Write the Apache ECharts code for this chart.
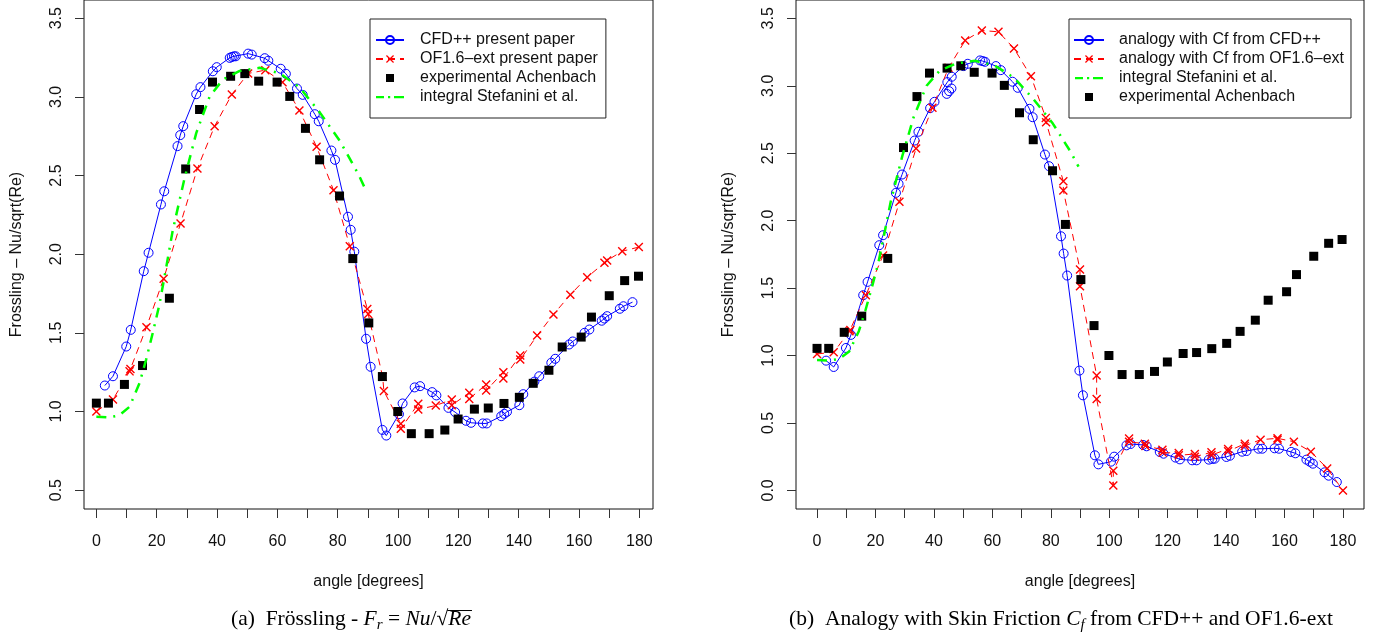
<!DOCTYPE html>
<html><head><meta charset="utf-8">
<script src="https://cdn.jsdelivr.net/npm/echarts@6/dist/echarts.min.js"></script>
<style>html,body{margin:0;padding:0;background:#fff}#c{width:1376px;height:640px}</style>
</head><body><div id="c"></div>
<script>
// ---------- tick labels ----------
const xTicks = [0,10,20,30,40,50,60,70,80,90,100,110,120,130,140,150,160,170,180];
const xLabels = [0,20,40,60,80,100,120,140,160,180];
const yTicksA = [0.5,1.0,1.5,2.0,2.5,3.0,3.5];
const yTicksB = [0.0,0.5,1.0,1.5,2.0,2.5,3.0,3.5];

// ---------- series names ----------
const namesA = ['CFD++ present paper','OF1.6\u2013ext present paper','experimental Achenbach','integral Stefanini et al.'];
const namesB = ['analogy with Cf from CFD++','analogy with Cf from OF1.6\u2013ext','integral Stefanini et al.','experimental Achenbach'];

// ---------- panel (a) : CFD++ ----------
const cfdA_angle = [2.8,5.5,9.9,11.4,15.7,17.3,21.4,22.5,26.9,27.8,28.8,33.1,34.5,38.6,39.9,44.2,44.9,45.6,46.2,50.3,51.5,55.8,57.0,61.1,62.8,66.5,68.4,72.4,73.7,77.9,79.1,83.4,84.3,85.5,89.4,90.9,94.8,96.1,100.3,101.5,105.5,107.3,111.3,112.7,116.7,118.9,122.5,124.2,128.1,129.4,134.2,135.2,136.1,140.2,141.5,145.2,146.8,150.8,152.1,156.7,157.9,161.8,163.4,167.5,168.4,169.3,173.5,174.7,177.7];
const cfdA_value = [1.165,1.224,1.413,1.519,1.892,2.009,2.316,2.40,2.687,2.757,2.814,3.017,3.062,3.163,3.189,3.248,3.254,3.258,3.258,3.275,3.269,3.246,3.23,3.179,3.147,3.053,3.013,2.89,2.845,2.659,2.60,2.238,2.155,2.016,1.462,1.284,0.883,0.847,0.983,1.051,1.153,1.161,1.123,1.102,1.023,0.996,0.941,0.928,0.924,0.924,0.97,0.985,0.998,1.04,1.11,1.19,1.224,1.31,1.335,1.426,1.445,1.50,1.521,1.577,1.591,1.606,1.653,1.669,1.695];

// ---------- panel (a) : OF1.6-ext ----------
const ofA_angle = [0,5.5,11.0,11.3,16.6,22.3,27.9,33.5,39.2,44.9,50.3,56.0,61.7,67.3,73.0,78.6,84.0,89.8,90.1,94.9,95.3,100.9,100.9,106.7,106.7,112.5,117.8,117.8,123.6,123.6,129.2,129.2,134.9,134.9,140.5,140.5,146.1,151.5,157.1,162.7,168.4,169.3,174.3,179.8];
const ofA_value = [1.0,1.076,1.255,1.27,1.536,1.844,2.195,2.545,2.814,3.015,3.149,3.17,3.093,2.914,2.683,2.407,2.051,1.652,1.62,1.22,1.13,0.922,0.89,1.049,1.013,1.038,1.076,1.04,1.119,1.08,1.172,1.133,1.25,1.21,1.356,1.33,1.483,1.617,1.742,1.854,1.945,1.96,2.019,2.045];

// ---------- experimental Achenbach (both panels) ----------
const expAngle = [0,4,9.3,15.3,24.2,29.6,34.2,38.5,44.5,49.2,53.8,59.9,64.1,69.3,74.0,80.6,85.0,90.3,94.8,99.9,104.4,110.3,115.5,119.9,125.3,129.9,135.1,140.2,144.8,150.0,154.4,160.7,164.1,170.0,175.1,179.7];
const expValue = [1.053,1.053,1.172,1.292,1.72,2.542,2.92,3.094,3.131,3.148,3.10,3.094,3.003,2.80,2.60,2.37,1.972,1.563,1.222,1.0,0.859,0.859,0.882,0.952,1.015,1.022,1.051,1.09,1.179,1.262,1.41,1.473,1.60,1.736,1.832,1.86];

// ---------- integral Stefanini et al. (both panels) ----------
const stefAngle = [0,4,7.6,11,14.3,16.5,18.7,20.9,23,25.3,29.2,33.1,37.5,41.9,47.5,54.1,60.8,67.4,74.1,80.7,86.8,89.5];
const stefValue = [0.966,0.962,0.975,1.03,1.18,1.33,1.50,1.68,1.90,2.15,2.48,2.77,3.0,3.11,3.165,3.185,3.15,3.06,2.90,2.72,2.51,2.40];

// ---------- panel (b) : analogy with Cf from CFD++ ----------
const cfdB_angle = [3.1,5.7,9.9,11.6,15.8,17.3,21.3,22.6,27.0,27.9,29.1,33.4,34.7,38.7,40.2,44.6,46.1,50.1,51.6,55.8,56.7,57.5,61.2,62.9,66.9,68.7,72.7,73.8,78.0,79.4,83.5,84.4,85.6,89.8,91.0,95.1,96.3,100.6,101.7,105.9,107.3,111.6,112.8,117.3,118.6,122.7,124.2,128.4,129.9,134.1,135.3,136.1,140.1,141.3,145.5,147.0,151.1,152.4,156.6,158.1,162.3,163.7,167.5,168.6,169.7,173.7,175.1,177.9];
const cfdB_value = [0.962,0.915,1.056,1.153,1.447,1.546,1.818,1.892,2.206,2.273,2.342,2.594,2.659,2.834,2.881,3.027,3.067,3.146,3.163,3.188,3.183,3.178,3.146,3.116,3.03,2.985,2.829,2.767,2.49,2.404,1.884,1.756,1.593,0.888,0.705,0.26,0.193,0.213,0.25,0.334,0.344,0.337,0.327,0.285,0.272,0.243,0.23,0.223,0.223,0.228,0.233,0.235,0.248,0.257,0.287,0.292,0.309,0.309,0.312,0.309,0.285,0.275,0.228,0.213,0.198,0.134,0.109,0.062];
// extra CFD++ markers off the drawn line (44-46 deg cluster)
const cfdB_extraAngle = [44.4,45.2,46.0];
const cfdB_extraValue = [2.94,2.96,2.98];

// ---------- panel (b) : analogy with Cf from OF1.6-ext ----------
const ofB_angle = [0,5.7,11.1,11.4,16.7,22.6,28.2,33.9,39.5,45.0,50.7,56.4,62.1,67.4,73.2,78.3,78.4,84.3,84.3,90.0,90.0,95.7,95.7,101.4,101.4,106.8,106.8,112.2,112.4,118.2,118.3,123.8,123.8,129.3,129.3,135.0,135.0,140.7,140.7,146.4,146.4,151.8,157.6,157.6,163.2,169.0,174.6,180.0];
const ofB_value = [1.012,1.024,1.18,1.19,1.447,1.741,2.14,2.535,2.837,3.133,3.336,3.41,3.40,3.277,3.071,2.762,2.73,2.292,2.223,1.637,1.513,0.851,0.678,0.037,0.146,0.384,0.36,0.346,0.33,0.302,0.28,0.277,0.26,0.27,0.25,0.282,0.262,0.307,0.29,0.346,0.33,0.376,0.386,0.375,0.361,0.287,0.163,0.0];

// ---------- build ----------
const zip = (a, b) => a.map((v, i) => [v, b[i]]);
const SANS = '"Liberation Sans", Arial, Helvetica, sans-serif';
const SERIF = '"Liberation Serif", "Times New Roman", serif';
const BLUE = '#0000ff', RED = '#ff0000', GREEN = '#00ff00';
const XSYM = 'path://M0,1.1L1.1,0L5,3.9L8.9,0L10,1.1L6.1,5L10,8.9L8.9,10L5,6.1L1.1,10L0,8.9L3.9,5Z';
// legend icons (tiny corner dots fix the bounding box so the glyph keeps its size)
const SQ_ICON = 'path://M0,0h0.01v0.01h-0.01zM9.99,9.99h0.01v0.01h-0.01zM1,1h8v8h-8z';
const DASHDOT_ICON = 'path://M0,0h0.01v0.01h-0.01zM27.99,9.99h0.01v0.01h-0.01zM0,4h8v2.2h-8zM12,4h2.2v2.2h-2.2zM18,4h10v2.2h-10z';

function xAxisCfg(gi, min, max) {
  return {
    type: 'value', gridIndex: gi, min: min, max: max,
    axisLine: { show: false, onZero: false }, splitLine: { show: false },
    axisTick: { show: true, customValues: xTicks, length: 9, lineStyle: { color: '#333', width: 1 } },
    axisLabel: { customValues: xLabels, margin: 25, fontSize: 16, color: '#111', fontFamily: SANS },
    name: 'angle [degrees]', nameLocation: 'middle', nameGap: 65,
    nameTextStyle: { fontSize: 16, color: '#111', fontFamily: SANS }
  };
}
function yAxisCfg(gi, min, max, ticks) {
  return {
    type: 'value', gridIndex: gi, min: min, max: max,
    axisLine: { show: false, onZero: false }, splitLine: { show: false },
    axisTick: { show: true, customValues: ticks, length: 9, lineStyle: { color: '#333', width: 1 } },
    axisLabel: { customValues: ticks, rotate: 90, margin: 19, fontSize: 16, color: '#111', fontFamily: SANS,
      formatter: v => Number(v).toFixed(1) },
    name: 'Frossling \u2013 Nu/sqrt(Re)', nameLocation: 'middle', nameGap: 59,
    nameTextStyle: { fontSize: 16, color: '#111', fontFamily: SANS }
  };
}
function legendCfg(left, names, pad, iw, tpad) {
  return {
    orient: 'vertical', left: left, top: 19, padding: pad, itemWidth: iw, itemHeight: 10, itemGap: 3,
    borderColor: '#222', borderWidth: 1, backgroundColor: '#fff', selectedMode: false,
    textStyle: { fontSize: 16, lineHeight: 16, color: '#111', fontFamily: SANS, padding: [0, 0, 0, tpad] },
    data: names.map(n => n.indexOf('experimental') === 0 ? { name: n, icon: SQ_ICON }
      : n.indexOf('integral') === 0 ? { name: n, icon: DASHDOT_ICON } : { name: n })
  };
}
const cfdStyle = { symbol: 'circle', symbolSize: 9, itemStyle: { color: 'rgba(255,255,255,0)', borderColor: BLUE, borderWidth: 1, opacity: 1 }, lineStyle: { color: BLUE, width: 1 } };
const ofStyle = { symbol: XSYM, symbolSize: 9, itemStyle: { color: RED, opacity: 1 }, lineStyle: { color: RED, width: 1, type: [7, 5] } };
const expStyle = { symbol: 'rect', symbolSize: 9, itemStyle: { color: '#000', opacity: 1 } };
const stefStyle = { symbol: 'none', lineStyle: { color: GREEN, width: 2.5, type: [10, 7, 2, 7] }, itemStyle: { color: GREEN } };

function series(type, name, gi, data, style, z) {
  return Object.assign({ type: type, name: name, xAxisIndex: gi, yAxisIndex: gi, data: data, z: z, animation: false, clip: false, showSymbol: true }, JSON.parse(JSON.stringify(style)));
}

// caption builder (measured so mixed italic / subscript text sits on one baseline)
const measCtx = document.createElement('canvas').getContext('2d');
function caption(cx, base, segs) {
  const els = [];
  const w = segs.map(s => { measCtx.font = (s.it ? 'italic ' : '') + s.fs + 'px ' + SERIF; return measCtx.measureText(s.t).width; });
  let x = cx - w.reduce((a, b) => a + b, 0) / 2;
  segs.forEach((s, i) => {
    const b = base + (s.dy || 0);
    els.push({ type: 'text', x: x, y: b - 0.33 * s.fs, silent: true,
      style: { text: s.t, fontFamily: SERIF, fontSize: s.fs, fontStyle: s.it ? 'italic' : 'normal', fill: '#000', align: 'left', verticalAlign: 'middle' } });
    if (s.over) els.push({ type: 'line', silent: true, shape: { x1: x - 1, y1: b - 0.72 * s.fs, x2: x + w[i] + 1, y2: b - 0.72 * s.fs }, style: { stroke: '#000', lineWidth: 1 } });
    x += w[i];
  });
  return els;
}
const FS = 21.5, FSS = 15;
const capA = caption(351, 626, [
  { t: '(a)  Fr\u00f6ssling - ', fs: FS }, { t: 'F', fs: FS, it: 1 }, { t: 'r', fs: FSS, it: 1, dy: 4 },
  { t: ' = ', fs: FS }, { t: 'Nu', fs: FS, it: 1 }, { t: '/', fs: FS }, { t: '\u221a', fs: FS }, { t: 'Re', fs: FS, it: 1, over: 1 }
]);
const capB = caption(1061, 626, [
  { t: '(b)  Analogy with Skin Friction ', fs: FS }, { t: 'C', fs: FS, it: 1 }, { t: 'f', fs: FSS, it: 1, dy: 4 },
  { t: ' from CFD++ and OF1.6-ext', fs: FS }
]);

const chart = echarts.init(document.getElementById('c'), null, { renderer: 'canvas' });
chart.setOption({
  animation: false,
  backgroundColor: '#fff',
  grid: [
    { left: 84, top: 0, width: 569, height: 509, show: true, borderColor: '#111', borderWidth: 1, backgroundColor: 'transparent' },
    { left: 796, top: 0, width: 568, height: 509, show: true, borderColor: '#111', borderWidth: 1, backgroundColor: 'transparent' }
  ],
  xAxis: [xAxisCfg(0, -4.1, 184.5), xAxisCfg(1, -7.2, 187.2)],
  yAxis: [yAxisCfg(0, 0.38, 3.616, yTicksA), yAxisCfg(1, -0.138, 3.636, yTicksB)],
  legend: [
    legendCfg(370, namesA, [13, 8, 13, 5], 28, 11),
    legendCfg(1069, namesB, [13, 7, 13, 4], 30, 10)
  ],
  series: [
    series('line', namesA[0], 0, zip(cfdA_angle, cfdA_value), cfdStyle, 3),
    series('line', namesA[1], 0, zip(ofA_angle, ofA_value), ofStyle, 4),
    series('scatter', namesA[2], 0, zip(expAngle, expValue), expStyle, 5),
    series('line', namesA[3], 0, zip(stefAngle, stefValue), stefStyle, 6),
    series('line', namesB[0], 1, zip(cfdB_angle, cfdB_value), cfdStyle, 3),
    series('scatter', namesB[0], 1, zip(cfdB_extraAngle, cfdB_extraValue), cfdStyle, 3),
    series('line', namesB[1], 1, zip(ofB_angle, ofB_value), ofStyle, 4),
    series('line', namesB[2], 1, zip(stefAngle, stefValue), stefStyle, 6),
    series('scatter', namesB[3], 1, zip(expAngle, expValue), expStyle, 5)
  ],
  graphic: capA.concat(capB)
});
</script></body></html>
